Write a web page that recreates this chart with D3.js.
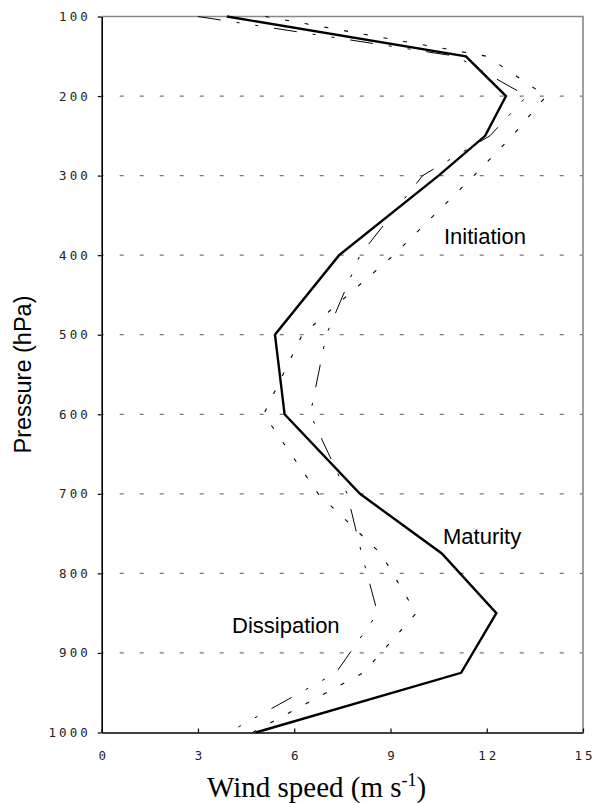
<!DOCTYPE html>
<html>
<head>
<meta charset="utf-8">
<script src="https://cdn.jsdelivr.net/npm/d3@7"></script>
<style>
    html, body { margin: 0; padding: 0; background: #fff; }
    .tick text { font-family: "DejaVu Sans Mono", monospace; font-size: 12.5px; letter-spacing: 3px; fill: #222; }
    .stage-label { font-family: "Liberation Sans", Arial, sans-serif; font-size: 22px; fill: #000; }
</style>
</head>
<body>
<div id="chart"></div>
<script>
// --- DATA ---
const levels = [100, 150, 200, 250, 300, 400, 500, 600, 700, 775, 850, 925, 1000];
const initiation  = [5.1, 12.0, 13.85, 12.8, 11.6, 9.1, 6.25, 5.05, 6.75, 8.7, 9.8, 8.15, 4.7];
const maturity    = [3.9, 11.35, 12.6, 11.95, 10.5, 7.4, 5.4, 5.7, 8.05, 10.6, 12.3, 11.2, 4.8];
const dissipation = [3.0, 11.05, 13.25, 12.1, 10.0, 8.05, 7.0, 6.5, 7.65, 8.1, 8.6, 7.3, 3.95];
const xTicks = [0, 3, 6, 9, 12, 15];
const yTicks = [100, 200, 300, 400, 500, 600, 700, 800, 900, 1000];
const gridLevels = [200, 300, 400, 500, 600, 700, 800, 900];

const width = 596;
const height = 803;
const margin = { left: 101.7, right: 13, top: 16.5, bottom: 70.5 };

const svg = d3.select("#chart")
    .append("svg")
    .attr("width", width)
    .attr("height", height);

// --- SCALES ---
const x = d3.scaleLinear()
    .domain([0, 15])
    .range([margin.left, width - margin.right]);

const y = d3.scaleLinear()
    .domain([100, 1000])
    .range([margin.top, height - margin.bottom]);

// --- GRID ---
svg.append("g")
    .selectAll("line")
    .data(gridLevels)
    .join("line")
    .attr("x1", x(0))
    .attr("x2", x(15))
    .attr("y1", d => y(d))
    .attr("y2", d => y(d))
    .attr("stroke", "#777")
    .attr("stroke-width", 1.3)
    .attr("stroke-dasharray", "4 16")
    .attr("stroke-dashoffset", 2);

// frame: top and right in grey
svg.append("path")
    .attr("d", `M${x(0)},${y(100)}H${x(15)}V${y(1000)}`)
    .attr("fill", "none")
    .attr("stroke", "#888")
    .attr("stroke-width", 1.6);

// --- LINES ---
const series = [
    { values: maturity, width: 2.4, dash: null },
    { values: dissipation, width: 1, dash: "23 16 3 16 3 16" },
    { values: initiation, width: 1.1, dash: "4 16" }
];

const line = d3.line()
    .x(d => x(d[0]))
    .y(d => y(d[1]));

svg.append("g")
    .selectAll("path")
    .data(series)
    .join("path")
    .attr("d", s => line(s.values.map((v, i) => [v, levels[i]])))
    .attr("fill", "none")
    .attr("stroke", "#000")
    .attr("stroke-width", s => s.width)
    .attr("stroke-linejoin", "miter")
    .attr("stroke-dasharray", s => s.dash);

// --- AXES ---
const yAxis = svg.append("g")
    .attr("transform", `translate(${x(0)},0)`)
    .call(d3.axisLeft(y).tickValues(yTicks).tickSizeInner(4).tickSizeOuter(0).tickPadding(7).tickFormat(d3.format("d")));

const xAxis = svg.append("g")
    .attr("transform", `translate(0,${y(1000)})`)
    .call(d3.axisBottom(x).tickValues(xTicks).tickSizeInner(-4).tickSizeOuter(0).tickPadding(18.5).tickFormat(d3.format("d")));

[yAxis, xAxis].forEach(g => {
    g.select(".domain").attr("stroke", "#000").attr("stroke-width", 1.6);
    g.selectAll(".tick line").attr("stroke", "#000").attr("stroke-width", 1.2);
});
xAxis.selectAll(".tick text").attr("dx", "1.5");

// --- LABELS ---
svg.append("text")
    .attr("transform", `translate(30.5,${(y(100) + y(1000)) / 2}) rotate(-90)`)
    .attr("text-anchor", "middle")
    .style("font-family", "'Liberation Sans', Arial, sans-serif")
    .style("font-size", "23.5px")
    .text("Pressure (hPa)");

const xl = svg.append("text")
    .attr("x", 207)
    .attr("y", 797)
    .style("font-family", "'Liberation Serif', 'Times New Roman', serif")
    .style("font-size", "29px");
xl.append("tspan").text("Wind speed (m s");
xl.append("tspan").attr("dy", -11).style("font-size", "18px").text("-1");
xl.append("tspan").attr("dy", 11).text(")");

svg.append("text").attr("class", "stage-label").attr("x", 444).attr("y", 244).text("Initiation");
svg.append("text").attr("class", "stage-label").attr("x", 443).attr("y", 544).text("Maturity");
svg.append("text").attr("class", "stage-label").attr("x", 232).attr("y", 633).text("Dissipation");
</script>
</body>
</html>
